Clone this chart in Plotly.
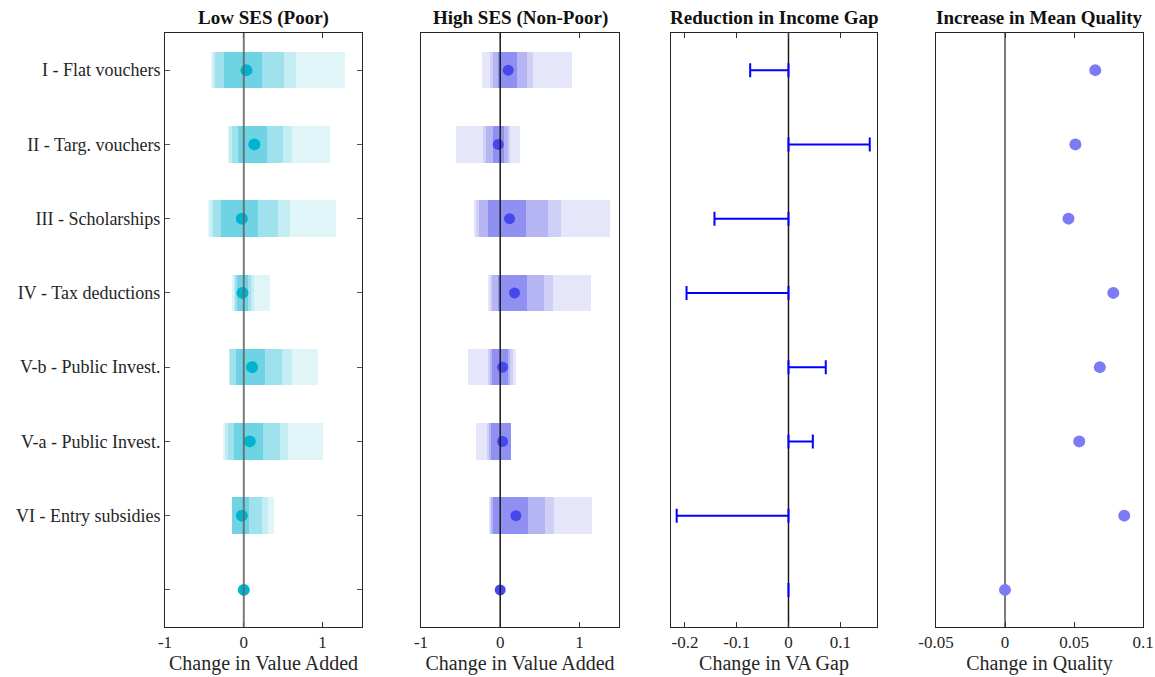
import plotly.graph_objects as go

# ---------------- data ----------------
policies = ["I - Flat vouchers", "II - Targ. vouchers", "III - Scholarships",
            "IV - Tax deductions", "V-b - Public Invest.", "V-a - Public Invest.",
            "VI - Entry subsidies", ""]
rows = [1, 2, 3, 4, 5, 6, 7, 8]

# Low SES (poor): nested bands (outer -> inner), lower and upper bounds, plus point estimate
poor_lo = [
    [-0.415, -0.205, -0.457, -0.151, -0.185, -0.264, -0.155],   # band 1 (outer)
    [-0.386, -0.185, -0.424, -0.130, -0.182, -0.239, -0.153],   # band 2
    [-0.360, -0.155, -0.394, -0.110, -0.180, -0.205, -0.152],   # band 3
    [-0.247, -0.075, -0.289, -0.092, -0.105, -0.130, -0.150],   # band 4 (inner)
]
poor_hi = [
    [1.283, 1.090, 1.166, 0.327, 0.943, 1.010, 0.381],
    [0.667, 0.616, 0.591, 0.134, 0.608, 0.566, 0.302],
    [0.507, 0.499, 0.436, 0.097, 0.490, 0.453, 0.226],
    [0.235, 0.289, 0.176, 0.054, 0.264, 0.239, 0.067],
]
poor_mean = [0.033, 0.134, -0.025, -0.017, 0.105, 0.075, -0.025, 0.0]

# High SES (non-poor)
rich_lo = [
    [-0.230, -0.558, -0.331, -0.159, -0.407, -0.306, -0.146],
    [-0.130, -0.214, -0.306, -0.134, -0.159, -0.172, -0.130],
    [-0.096, -0.180, -0.264, -0.105, -0.135, -0.140, -0.117],
    [-0.025, -0.096, -0.159, -0.025, -0.105, -0.117, -0.096],
]
rich_hi = [
    [0.903, 0.244, 1.386, 1.142, 0.198, 0.140, 1.163],
    [0.408, 0.126, 0.773, 0.664, 0.156, 0.138, 0.680],
    [0.336, 0.093, 0.601, 0.550, 0.125, 0.136, 0.563],
    [0.210, 0.050, 0.324, 0.336, 0.095, 0.133, 0.353],
]
rich_mean = [0.101, -0.025, 0.118, 0.181, 0.030, 0.030, 0.198, 0.0]

# Reduction in income gap (change in VA gap)
gap_change = [-0.074, 0.157, -0.143, -0.197, 0.072, 0.047, -0.216, 0.0]

# Increase in mean quality
quality_change = [0.0654, 0.051, 0.046, 0.0785, 0.0687, 0.0538, 0.0864, 0.0]

panel_titles = ["Low SES (Poor)", "High SES (Non-Poor)",
                "Reduction in Income Gap", "Increase in Mean Quality"]
axis_titles = ["Change in Value Added", "Change in Value Added",
               "Change in VA Gap", "Change in Quality"]

cyan_bands = ["#e0f5f8", "#c3ecf3", "#9fe1ec", "#6ed3e3"]
cyan_dot = "#00b4d0"
blue_bands = ["#e6e6fb", "#d0d0f7", "#b5b5f4", "#9090f2"]
blue_dot = "#4747ee"

# ---------------- figure ----------------
W, H = 1155, 677
FONT = "Palatino Linotype, Book Antiqua, Palatino, URW Palladio L, Liberation Serif, serif"
TXT = "#262626"

fig = go.Figure()

def add_bands(lo, hi, colors, xa, ya):
    for k in range(len(lo)):
        widths = [h - l for l, h in zip(lo[k], hi[k])]
        fig.add_trace(go.Bar(
            orientation="h", y=rows[:7], x=widths, base=lo[k], width=0.49,
            marker=dict(color=colors[k], line=dict(width=0)),
            xaxis=xa, yaxis=ya, showlegend=False, hoverinfo="skip"))

add_bands(poor_lo, poor_hi, cyan_bands, "x", "y")
add_bands(rich_lo, rich_hi, blue_bands, "x2", "y2")

fig.add_trace(go.Scatter(x=poor_mean, y=rows, mode="markers",
                         marker=dict(color=cyan_dot, size=12, line=dict(width=0)),
                         xaxis="x", yaxis="y", showlegend=False))
fig.add_trace(go.Scatter(x=rich_mean, y=rows, mode="markers",
                         marker=dict(color=blue_dot, size=11, line=dict(width=0)),
                         xaxis="x2", yaxis="y2", showlegend=False))

# error-bar style span from 0 to the value
mid = [g / 2 for g in gap_change]
half = [abs(g) / 2 for g in gap_change]
fig.add_trace(go.Scatter(x=mid, y=rows, mode="markers",
                         marker=dict(size=1, color="rgba(0,0,0,0)"),
                         error_x=dict(type="data", array=half, symmetric=True,
                                      color="#0000ff", thickness=2, width=7),
                         xaxis="x3", yaxis="y3", showlegend=False))

fig.add_trace(go.Scatter(x=quality_change, y=rows, mode="markers",
                         marker=dict(color="#7b7bf6", size=12, line=dict(width=0)),
                         xaxis="x4", yaxis="y4", showlegend=False))

# zero lines
zero_styles = [("x", "y", "rgba(100,100,100,0.85)", 2, "above"),
               ("x2", "y2", "#1a1a1a", 1.5, "above"),
               ("x3", "y3", "#1a1a1a", 1.5, "below"),
               ("x4", "y4", "rgba(100,100,100,0.85)", 2, "below")]
for xa, ya, col, w, lay in zero_styles:
    fig.add_shape(type="line", xref=xa, yref=ya + " domain", x0=0, x1=0, y0=0, y1=1,
                  line=dict(color=col, width=w), layer=lay)

# panel geometry (page pixels)
xpix = [(165, 362), (421, 619), (671, 877), (936, 1143)]
ytop, ybot = 33, 627
ydom = [1 - ybot / H, 1 - ytop / H]
xranges = [[-1, 1.5], [-1, 1.5], [-0.227, 0.171], [-0.05, 0.1]]
xticks = [[-1, 0, 1], [-1, 0, 1], [-0.2, -0.1, 0, 0.1], [-0.05, 0, 0.05, 0.1]]
xticktext = [["-1", "0", "1"], ["-1", "0", "1"], ["-0.2", "-0.1", "0", "0.1"],
             ["-0.05", "0", "0.05", "0.1"]]

layout = dict(
    width=W, height=H, autosize=False,
    margin=dict(l=0, r=0, t=0, b=0, autoexpand=False),
    paper_bgcolor="white", plot_bgcolor="white",
    barmode="overlay", bargap=0,
    font=dict(family=FONT, size=17, color=TXT),
    showlegend=False,
)
for i in range(4):
    sfx = "" if i == 0 else str(i + 1)
    layout["xaxis" + sfx] = dict(
        domain=[xpix[i][0] / W, xpix[i][1] / W], range=xranges[i],
        tickvals=xticks[i], ticktext=xticktext[i],
        ticks="inside", ticklen=5, tickwidth=1, tickcolor="#333333",
        showline=True, linecolor="#262626", linewidth=1, mirror="ticks",
        showgrid=False, zeroline=False, anchor="y" + sfx, automargin=False,
        tickfont=dict(size=17, color=TXT),
        title=dict(text=axis_titles[i], font=dict(size=20, color=TXT), standoff=2),
        fixedrange=True)
    yax = dict(
        domain=ydom, range=[8.5, 0.5], anchor="x" + sfx, automargin=False,
        showline=True, linecolor="#262626", linewidth=1, mirror=True,
        showgrid=False, zeroline=False, fixedrange=True)
    if i == 0:
        yax.update(tickvals=rows, ticktext=policies, ticks="inside", ticklen=5,
                   tickcolor="#555555", mirror="ticks",
                   tickfont=dict(size=18, color=TXT))
    else:
        yax.update(showticklabels=False, ticks="")
    layout["yaxis" + sfx] = yax

fig.update_layout(**layout)

for i in range(4):
    cx = (xpix[i][0] + xpix[i][1]) / 2 / W
    fig.add_annotation(x=cx, y=1 - 17.5 / H, xref="paper", yref="paper",
                       text="<b>" + panel_titles[i] + "</b>", showarrow=False,
                       font=dict(size=19, color="#111111", family=FONT),
                       xanchor="center", yanchor="middle")

fig.write_html("out.html",
               config={"displayModeBar": False, "staticPlot": True},
               post_script="document.body.style.margin='0';"
                           "document.body.style.overflow='hidden';")
